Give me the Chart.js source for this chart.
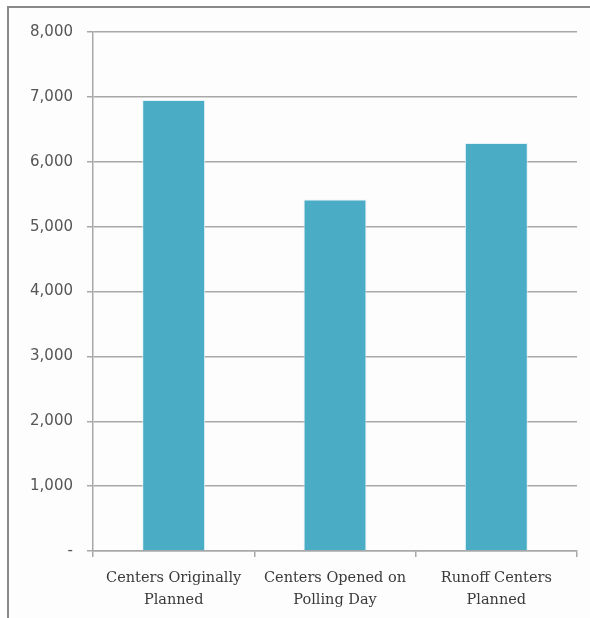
<!DOCTYPE html>
<html>
<head>
<meta charset="utf-8">
<script src="https://cdn.jsdelivr.net/npm/chart.js@4"></script>
<style>
  html, body { margin: 0; padding: 0; background: #fff; }
  #frame {
    position: absolute; left: 7px; top: 6px;
    width: 600px; height: 620px;
    border-top: 2px solid #8a8a8a; border-left: 2px solid #8a8a8a;
    background: #fdfdfd;
  }
  #wrap { position: absolute; left: 9px; top: 8px; width: 581px; height: 610px; }
</style>
</head>
<body>
<div id="frame"></div>
<div id="wrap"><canvas id="chart"></canvas></div>
<script>
// chart data
const categories = [
    ['Centers Originally', 'Planned'],
    ['Centers Opened on', 'Polling Day'],
    ['Runoff Centers', 'Planned']
];
const centerCounts = [6950, 5420, 6290];
const yTicks = [0, 1000, 2000, 3000, 4000, 5000, 6000, 7000, 8000];

const barColor = '#4bacc6';
const gridColor = '#a8a8a8';

const ctx = document.getElementById('chart');

new Chart(ctx, {
    type: 'bar',
    data: {
        labels: categories,
        datasets: [{
            label: 'Centers',
            data: centerCounts,
            backgroundColor: barColor,
            borderColor: 'rgba(225, 242, 247, 0.9)',
            borderWidth: 1,
            categoryPercentage: 0.78,
            barPercentage: 0.5
        }]
    },
    options: {
        responsive: true,
        maintainAspectRatio: false,
        animation: false,
        layout: { padding: { top: 24, right: 13, left: 0, bottom: 0 } },
        plugins: {
            legend: { display: false },
            tooltip: { enabled: false }
        },
        scales: {
            x: {
                offset: true,
                grid: {
                    offset: true,
                    drawOnChartArea: false,
                    tickLength: 6,
                    color: gridColor,
                    lineWidth: 1.5
                },
                border: { color: gridColor, width: 1.5 },
                ticks: {
                    color: '#3a3a3a',
                    padding: 10,
                    maxRotation: 0,
                    font: { family: 'DejaVu Serif', size: 14.5, lineHeight: 1.55 }
                },
                afterFit: scale => { scale.height = 67; }
            },
            y: {
                min: 0,
                max: 8000,
                afterBuildTicks: scale => {
                    scale.ticks = yTicks.map(v => ({ value: v }));
                },
                grid: {
                    tickLength: 6,
                    color: gridColor,
                    lineWidth: 1.5
                },
                border: { color: gridColor, width: 1.5 },
                ticks: {
                    color: '#555',
                    padding: 14,
                    font: { family: 'DejaVu Sans', size: 15 },
                    callback: v => v === 0 ? '-' : v.toLocaleString('en-US')
                },
                afterFit: scale => { scale.width = 84; }
            }
        }
    }
});
</script>
</body>
</html>
